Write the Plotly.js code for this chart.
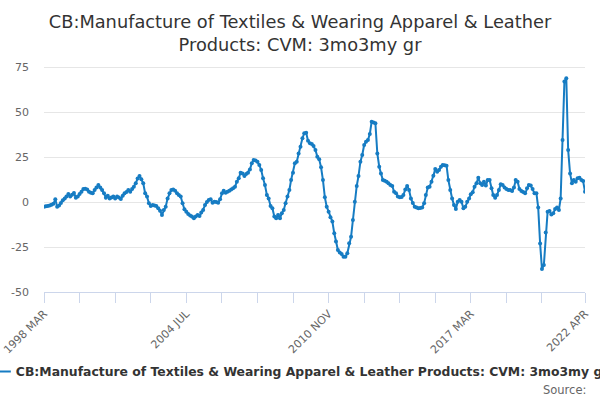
<!DOCTYPE html>
<html><head><meta charset="utf-8">
<script src="https://cdn.plot.ly/plotly-3.0.1.min.js"></script>
<style>html,body{margin:0;padding:0;background:#fff}#chart{width:600px;height:400px}</style>
</head><body><div id="chart"></div>
<script>
const seriesName = "CB:Manufacture of Textiles & Wearing Apparel & Leather Products: CVM: 3mo3my gr";
const chartTitle = "CB:Manufacture of Textiles & Wearing Apparel & Leather<br>Products: CVM: 3mo3my gr";
const sourceText = "Source:";
const firstYear = 1998;
const firstMonth = 3;

// monthly values, 1998 MAR .. 2022 APR
const growth1998_2009 = [
  -2.6, -2.4, -2.2, -2.0, -1.5, -1.0, 1.5, -2.6, -2.0, -0.5,
  1.0, 2.0, 3.0, 4.4, 3.0, 4.0, 5.0, 2.4, 3.0, 4.5,
  5.7, 7.2, 7.3, 7.0, 5.7, 5.2, 4.8, 6.7, 8.0, 9.4,
  8.0, 6.7, 4.8, 2.4, 3.5, 2.0, 2.5, 3.0, 2.0, 3.0,
  2.5, 1.7, 3.5, 4.8, 5.5, 6.7, 5.7, 7.2, 8.5, 10.4,
  13.0, 14.4, 12.6, 10.4, 4.8, 3.0, -0.7, -2.2, -1.7, -2.0,
  -2.2, -3.5, -4.8, -7.2, -4.4, -2.6, 2.0, 4.8, 6.7, 7.0,
  6.3, 4.8, 3.9, 3.0, -0.7, -4.0, -5.4, -6.7, -7.5, -8.1,
  -9.0, -8.1, -7.2, -7.8, -5.9, -4.4, -1.7, 0.0, 1.1, 1.5,
  -0.4, 0.2, 0.0, -0.4, 1.5, 4.8, 6.3, 5.2, 5.7, 6.3,
  7.0, 7.6, 8.5, 11.3, 13.2, 16.3, 15.9, 14.4, 15.5, 16.3,
  18.1, 21.5, 23.3, 23.0, 22.4, 20.6, 17.8, 13.2, 9.4, 3.9,
  2.0, -2.2, -3.5, -8.1, -9.0, -7.2, -9.0, -6.3, -4.4, -0.7
];
const growth2009_2017 = [
  3.0, 6.7, 12.2, 16.3, 21.5, 22.4, 27.0, 30.7, 35.4, 38.2,
  38.5, 34.0, 32.6, 32.2, 31.1, 28.9, 25.2, 23.7, 19.3, 12.2,
  2.6, -2.6, -5.4, -8.5, -10.9, -17.4, -22.0, -26.7, -28.1, -28.9,
  -30.4, -30.4, -28.5, -22.9, -19.3, -10.0, 0.2, 8.9, 14.4, 22.4,
  26.1, 31.7, 33.5, 34.4, 37.8, 44.6, 44.1, 43.7, 27.0, 19.6,
  15.9, 12.2, 11.8, 11.3, 10.4, 9.5, 8.9, 5.7, 4.8, 3.0,
  2.6, 2.8, 3.9, 7.0, 8.9, 6.7, 2.0, -0.5, -2.6, -3.1,
  -3.5, -3.3, -3.1, -0.7, 3.9, 8.0, 8.5, 11.3, 14.6, 18.3,
  16.8, 17.8, 19.6, 20.6, 20.4, 20.2, 12.2, 6.7, 2.0, -1.7
];
const growth2017_2022 = [
  -3.9, 0.2, 1.1, 0.2, -3.5, -2.6, 0.2, 2.0, 4.3, 5.4,
  8.5, 10.4, 13.5, 10.4, 9.4, 11.3, 9.1, 12.2, 12.2, 7.6,
  3.9, 2.4, 3.9, 6.7, 9.8, 9.4, 8.0, 7.2, 6.7, 6.7,
  6.1, 8.0, 12.2, 11.3, 7.2, 6.1, 5.5, 4.8, 7.6, 9.4,
  9.1, 7.2, 4.8, 4.8, -3.1, -23.0, -37.2, -35.0, -17.0, -5.4,
  -5.0, -6.9, -6.3, -3.9, -3.1, -4.4, 2.0, 34.4, 66.9, 68.7,
  28.9, 15.9, 10.4, 12.2, 11.3, 13.2, 13.5, 12.2, 11.7, 5.7
];
const growth = growth1998_2009.concat(growth2009_2017, growth2017_2022);

const tickLabels = ["1998 MAR", "2004 JUL", "2010 NOV", "2017 MAR", "2022 APR"];
const yTickValues = [-50, -25, 0, 25, 50, 75];

const MONTHS = ["JAN","FEB","MAR","APR","MAY","JUN","JUL","AUG","SEP","OCT","NOV","DEC"];
function monthDate(i) {
  const t = (firstMonth - 1) + i;
  const y = firstYear + Math.floor(t / 12);
  const m = (t % 12) + 1;
  return y + "-" + String(m).padStart(2, "0") + "-01";
}
function labelDate(lbl) {
  const [y, mon] = lbl.split(" ");
  return y + "-" + String(MONTHS.indexOf(mon) + 1).padStart(2, "0") + "-01";
}

const n = growth.length;
const dates = growth.map((_, i) => monthDate(i));

const tickStep = 19;
const tickVals = [];
for (let k = 0; k * tickStep + tickStep <= n - 1; k++) tickVals.push(monthDate(k * tickStep));
tickVals.push(monthDate(n - 1));
const labelMap = {};
tickLabels.forEach(l => { labelMap[labelDate(l)] = l; });
const tickText = tickVals.map(d => labelMap[d] || "");

const FONT = "DejaVu Sans, Verdana, sans-serif";
const lineColor = "#167cc3";

const trace = {
  type: "scatter",
  mode: "lines+markers",
  x: dates,
  y: growth,
  name: seriesName,
  line: { color: lineColor, width: 2 },
  marker: { color: lineColor, size: 4 },
  showlegend: true
};

const layout = {
  width: 600, height: 400,
  paper_bgcolor: "#ffffff", plot_bgcolor: "#ffffff",
  margin: { l: 44, r: 15, t: 58, b: 108, autoexpand: false },
  font: { family: FONT, color: "#666666", size: 11 },
  title: {
    text: chartTitle,
    font: { family: FONT, size: 17.8, color: "#333333" },
    x: 0.5, xref: "container", xanchor: "center",
    y: 0.93, yref: "container", yanchor: "top"
  },
  xaxis: {
    type: "date",
    range: [dates[0], dates[n - 1]],
    tickmode: "array",
    tickvals: tickVals,
    ticktext: tickText,
    tickangle: -45,
    ticks: "outside", ticklen: 10, tickwidth: 1, tickcolor: "#ccd6eb",
    showline: true, linecolor: "#ccd6eb", linewidth: 1,
    showgrid: false, zeroline: false,
    tickfont: { family: FONT, size: 11, color: "#666666" }
  },
  yaxis: {
    range: [-50, 80],
    tickmode: "array",
    tickvals: yTickValues,
    ticktext: yTickValues.map(String),
    showgrid: true, gridcolor: "#e6e6e6", gridwidth: 1,
    zeroline: false, showline: false,
    ticks: "", ticklabelstandoff: 14,
    tickfont: { family: FONT, size: 11, color: "#666666" }
  },
  showlegend: true,
  legend: {
    orientation: "h",
    x: -0.126, xanchor: "left", xref: "paper",
    y: -0.342, yanchor: "middle", yref: "paper",
    font: { family: FONT, size: 12.4, color: "#333333", weight: "bold" },
    bgcolor: "rgba(0,0,0,0)"
  },
  annotations: [{
    text: sourceText, showarrow: false,
    xref: "paper", yref: "paper",
    x: 1.0055, xanchor: "right",
    y: -0.419, yanchor: "middle",
    font: { family: FONT, size: 11.5, color: "#666666" }
  }]
};

Plotly.newPlot("chart", [trace], layout, { displayModeBar: false, staticPlot: true });
</script>
</body></html>
